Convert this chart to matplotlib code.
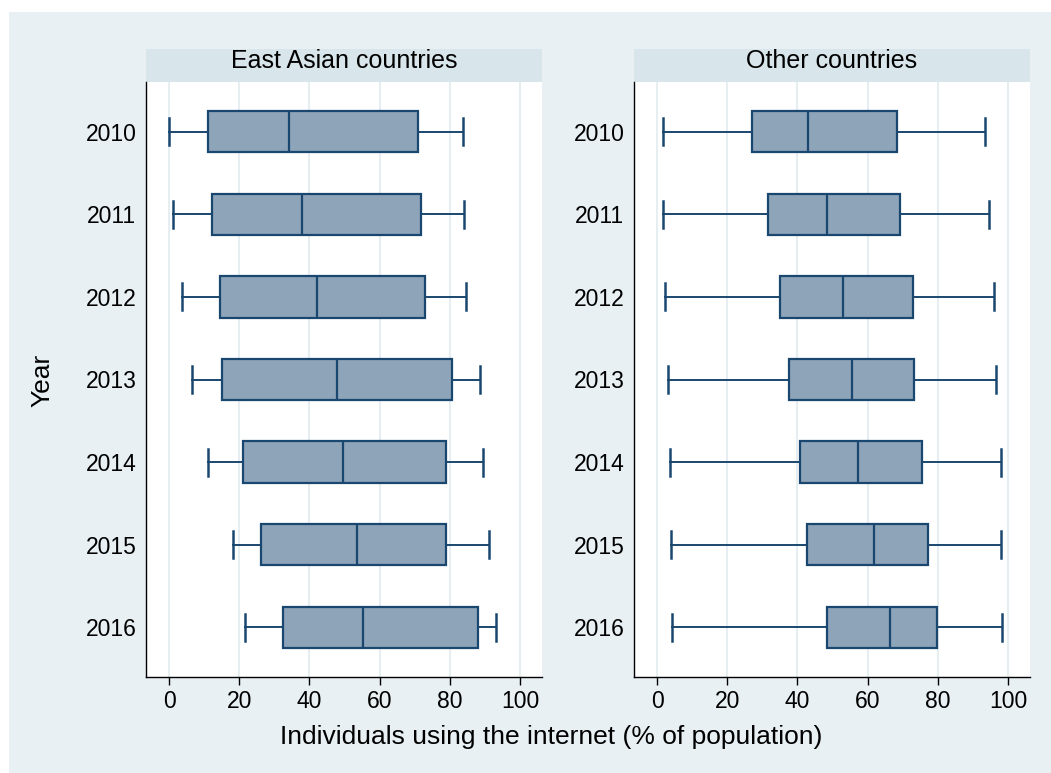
import matplotlib.pyplot as plt
from matplotlib.patches import Rectangle

plt.rcParams['font.family'] = ['Liberation Sans', 'DejaVu Sans']

years = ['2010', '2011', '2012', '2013', '2014', '2015', '2016']
panels = ['East Asian countries', 'Other countries']

# five-number summaries: low whisker, q1, median, q3, high whisker
ea_low = [0.1, 1.0, 3.7, 6.6, 11.1, 18.3, 21.7]
ea_q1 = [11.0, 12.3, 14.6, 15.1, 21.1, 26.3, 32.5]
ea_med = [34.3, 38.0, 42.3, 48.0, 49.7, 53.7, 55.4]
ea_q3 = [70.9, 71.7, 72.9, 80.6, 78.9, 78.9, 88.1]
ea_high = [83.7, 84.0, 84.6, 88.6, 89.4, 91.1, 93.2]

ot_low = [1.8, 1.7, 2.3, 3.1, 3.7, 4.0, 4.2]
ot_q1 = [27.0, 31.6, 35.0, 37.6, 40.7, 42.7, 48.3]
ot_med = [42.9, 48.4, 53.0, 55.6, 57.3, 61.8, 66.4]
ot_q3 = [68.5, 69.2, 72.9, 73.2, 75.5, 77.2, 79.8]
ot_high = [93.4, 94.6, 96.0, 96.6, 98.0, 98.0, 98.3]

BG = '#e8f0f3'
STRIP = '#d8e5eb'
NAVY = '#1a476f'
FILL = '#8ea4b9'
GRID = '#e6eef1'

W, H = 1051, 773
fig = plt.figure(figsize=(W / 100, H / 100), dpi=100)
fig.patch.set_facecolor('white')
fig.add_artist(Rectangle((9 / W, 0), 1, 1 - 12 / H, transform=fig.transFigure,
                         facecolor=BG, edgecolor='none', zorder=-10))

ax_w = 396 / W
ax_b = 1 - 677 / H
ax_h = 595 / H
lefts = [146 / W, 634 / W]
data = [(ea_low, ea_q1, ea_med, ea_q3, ea_high), (ot_low, ot_q1, ot_med, ot_q3, ot_high)]

for left, title, (lo, q1, med, q3, hi) in zip(lefts, panels, data):
    ax = fig.add_axes([left, ax_b, ax_w, ax_h])
    stats = []
    for i in range(len(years)):
        stats.append({'whislo': lo[i], 'q1': q1[i], 'med': med[i], 'q3': q3[i],
                      'whishi': hi[i], 'fliers': []})
    ax.bxp(stats, positions=range(len(years)), vert=False, widths=0.5,
           patch_artist=True, showfliers=False,
           boxprops=dict(facecolor=FILL, edgecolor=NAVY, linewidth=1.6),
           medianprops=dict(color=NAVY, linewidth=1.6),
           whiskerprops=dict(color=NAVY, linewidth=1.4),
           capprops=dict(color=NAVY, linewidth=1.8), capwidths=0.33)
    ax.set_xlim(-6.57, 106.3)
    ax.set_ylim(6.6, -0.6)
    ax.set_xticks([0, 20, 40, 60, 80, 100])
    ax.set_yticks(range(len(years)))
    ax.set_yticklabels(years)
    ax.grid(axis='x', color=GRID, linewidth=1.5)
    ax.set_axisbelow(True)
    for s in ['top', 'right']:
        ax.spines[s].set_visible(False)
    for s in ['left', 'bottom']:
        ax.spines[s].set_color('black')
        ax.spines[s].set_linewidth(1.0)
    ax.tick_params(axis='x', labelsize=16.5, length=6, width=1, pad=3)
    ax.tick_params(axis='y', labelsize=16.5, length=0, pad=7)
    ax.add_patch(Rectangle((0, 1.0), 1, 33 / 595, transform=ax.transAxes,
                           facecolor=STRIP, edgecolor='none', clip_on=False))
    ax.text(0.5, 1 + 21 / 595, title, transform=ax.transAxes, ha='center',
            va='center', fontsize=18)

fig.text(551 / W, 1 - 737 / H, 'Individuals using the internet (% of population)',
         ha='center', va='center', fontsize=19)
fig.text(42 / W, 1 - 380 / H, 'Year', rotation=90, ha='center', va='center', fontsize=19)

fig.savefig('out.png', dpi=100)
